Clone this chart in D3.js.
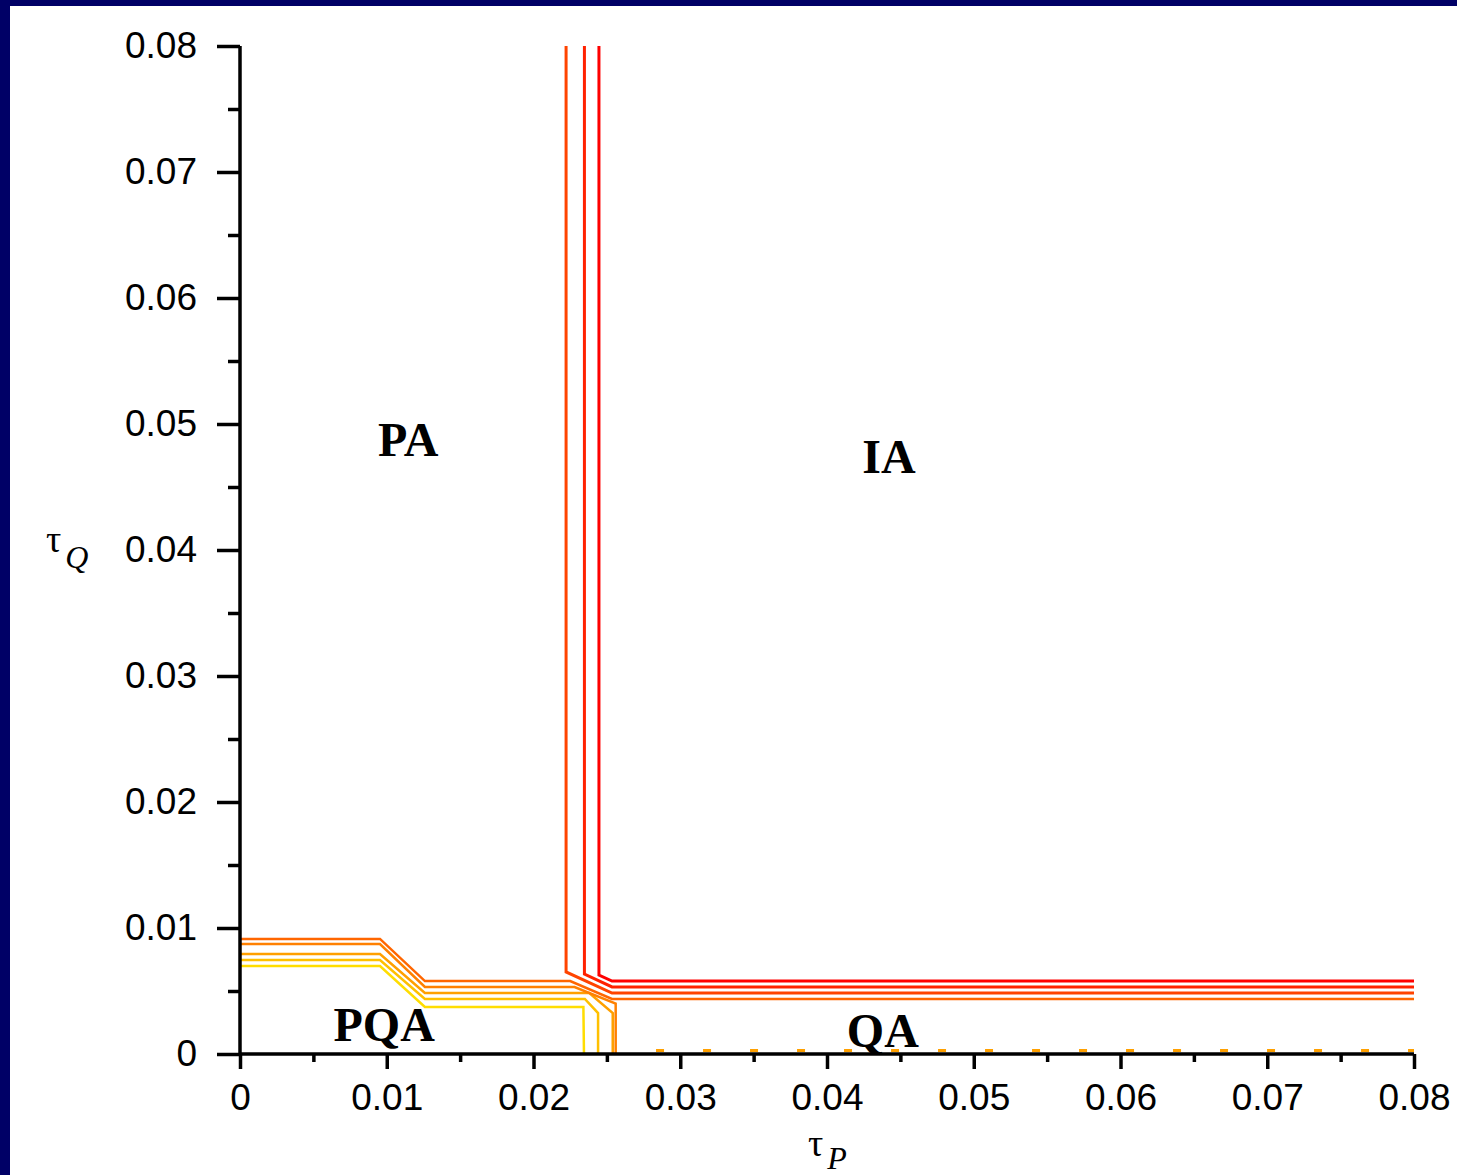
<!DOCTYPE html>
<html>
<head>
<meta charset="utf-8">
<script src="https://cdn.jsdelivr.net/npm/d3@7"></script>
<style>
  body { margin: 0; background: #fff; }
  .tick text { font-family: "Liberation Sans", Arial, sans-serif; font-size: 37px; fill: #000; }
  .region { font-family: "Liberation Serif", "Times New Roman", serif; font-weight: bold; font-size: 48px; }
  .atitle { font-family: "Liberation Serif", serif; }
</style>
</head>
<body>
<svg id="chart" width="1457" height="1175"></svg>
<script>
// axis ticks
var majorTicks = [0, 0.01, 0.02, 0.03, 0.04, 0.05, 0.06, 0.07, 0.08];
var minorTicks = [0.005, 0.015, 0.025, 0.035, 0.045, 0.055, 0.065, 0.075];
var tickLabels = ["0", "0.01", "0.02", "0.03", "0.04", "0.05", "0.06", "0.07", "0.08"];

// boundary curves, [tauP, tauQ]
var upperRed = [[0.02446, 0.08], [0.02446, 0.00627], [0.02535, 0.00579], [0.08, 0.00579]];
var upperRed2 = [[0.02347, 0.08], [0.02347, 0.00635], [0.02535, 0.00532], [0.08, 0.00532]];
var upperRed3 = [[0.02222, 0.08], [0.02222, 0.00651], [0.02535, 0.00484], [0.08, 0.00484]];
var crossOrange = [[0, 0.00913], [0.00954, 0.00913], [0.0126, 0.00579], [0.0225, 0.00579], [0.02535, 0.00437], [0.08, 0.00437]];
var crossOrange2 = [[0, 0.00873], [0.00954, 0.00873], [0.0126, 0.00532], [0.0228, 0.00532], [0.0256, 0.00400], [0.0256, 0]];
var lowerAmber = [[0, 0.00794], [0.00954, 0.00794], [0.0126, 0.00484], [0.0238, 0.00484], [0.0254, 0.00325], [0.0254, 0]];
var lowerGold = [[0, 0.00746], [0.00954, 0.00746], [0.0126, 0.00437], [0.0235, 0.00437], [0.0244, 0.00325], [0.0244, 0]];
var lowerYellow = [[0, 0.00698], [0.00954, 0.00698], [0.0126, 0.00373], [0.0234, 0.00373], [0.02344, 0]];
var nearZero = [[0.02835, 0.00028], [0.08, 0.00028]];

var curves = [
  { pts: lowerYellow, color: "#ffdd00", w: 2.5 },
  { pts: lowerGold, color: "#ffc000", w: 2.5 },
  { pts: lowerAmber, color: "#ffa000", w: 2.5 },
  { pts: crossOrange2, color: "#ff8000", w: 2.5 },
  { pts: crossOrange, color: "#ff6600", w: 2.5 },
  { pts: upperRed3, color: "#ff4400", w: 3 },
  { pts: upperRed2, color: "#ff2200", w: 3 },
  { pts: upperRed, color: "#ff0000", w: 3 }
];

// region labels [tauP, tauQ]
var regionNames = ["PA", "IA", "PQA", "QA"];
var regionPos = [[0.0094, 0.04746], [0.0424, 0.04611], [0.00637, 0.00103], [0.04135, 0.00056]];

var svg = d3.select("#chart");

svg.append("rect").attr("x", 0).attr("y", 0).attr("width", 1457).attr("height", 6).attr("fill", "#000066");
svg.append("rect").attr("x", 0).attr("y", 0).attr("width", 10).attr("height", 1175).attr("fill", "#000066");

var x = d3.scaleLinear().domain([0, 0.08]).range([240, 1414]);
var y = d3.scaleLinear().domain([0, 0.08]).range([1054, 46]);

var line = d3.line().x(function(d) { return x(d[0]); }).y(function(d) { return y(d[1]); });

svg.append("g").selectAll("path")
  .data(curves)
  .enter().append("path")
    .attr("d", function(d) { return line(d.pts); })
    .attr("fill", "none")
    .attr("stroke", function(d) { return d.color; })
    .attr("stroke-width", function(d) { return d.w; });

svg.append("path")
  .attr("d", line(nearZero))
  .attr("fill", "none")
  .attr("stroke", "#ffa000")
  .attr("stroke-width", 3)
  .attr("stroke-dasharray", "8,39");

// axes
var xAxis = svg.append("g").attr("transform", "translate(0,1054)")
  .call(d3.axisBottom(x).tickValues(majorTicks).tickSize(15).tickPadding(15)
    .tickFormat(function(d, i) { return tickLabels[i]; }));
var xMinor = svg.append("g").attr("transform", "translate(0,1054)")
  .call(d3.axisBottom(x).tickValues(minorTicks).tickSize(8).tickFormat(""));
var yAxis = svg.append("g").attr("transform", "translate(240,0)")
  .call(d3.axisLeft(y).tickValues(majorTicks).tickSize(23).tickPadding(20)
    .tickFormat(function(d, i) { return tickLabels[i]; }));
var yMinor = svg.append("g").attr("transform", "translate(240,0)")
  .call(d3.axisLeft(y).tickValues(minorTicks).tickSize(12).tickFormat(""));

svg.selectAll(".domain").attr("stroke", "#000").attr("stroke-width", 3.5);
svg.selectAll(".tick line").attr("stroke", "#000").attr("stroke-width", 3.5);
xMinor.select(".domain").remove();
yMinor.select(".domain").remove();
xAxis.select(".domain").attr("d", "M240,0H1414");
yAxis.select(".domain").attr("d", "M0,46V1054");

// region labels
svg.append("g").selectAll("text")
  .data(regionNames)
  .enter().append("text")
    .attr("class", "region")
    .attr("x", function(d, i) { return x(regionPos[i][0]); })
    .attr("y", function(d, i) { return y(regionPos[i][1]); })
    .text(function(d) { return d; });

// axis titles
var tq = svg.append("text").attr("class", "atitle").attr("x", 46).attr("y", 552);
tq.append("tspan").attr("font-size", 38).text("τ");
tq.append("tspan").attr("font-size", 32).attr("font-style", "italic").attr("dx", 4).attr("dy", 16).text("Q");

var tp = svg.append("text").attr("class", "atitle").attr("x", 808).attr("y", 1156);
tp.append("tspan").attr("font-size", 38).text("τ");
tp.append("tspan").attr("font-size", 32).attr("font-style", "italic").attr("dx", 4).attr("dy", 13).text("P");
</script>
</body>
</html>
